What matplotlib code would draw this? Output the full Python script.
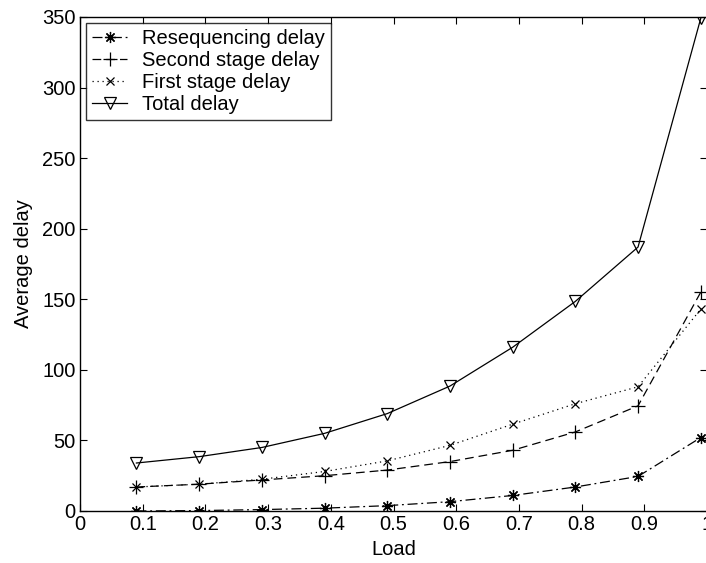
import matplotlib
matplotlib.use("Agg")
import matplotlib.pyplot as plt

plt.rcParams['font.family'] = ['Liberation Sans', 'DejaVu Sans']

load = [0.09, 0.19, 0.29, 0.39, 0.49, 0.59, 0.69, 0.79, 0.89, 0.99]
reseq = [0, 0.3, 1, 2, 3.8, 6.6, 11, 17, 24.5, 52]
second = [17, 19, 22, 25, 29, 35, 43, 56, 74.5, 155]
first = [17, 19, 22.5, 28, 35.5, 46.5, 61.5, 76, 88, 143]
total = [34, 38.5, 45, 55, 69, 88.5, 116, 148.5, 187, 349]

xticks = [0, 0.1, 0.2, 0.3, 0.4, 0.5, 0.6, 0.7, 0.8, 0.9, 1.0]
xticklabels = ["0", "0.1", "0.2", "0.3", "0.4", "0.5", "0.6", "0.7", "0.8", "0.9", "1"]
yticks = [0, 50, 100, 150, 200, 250, 300, 350]

FS = 14.5

fig = plt.figure(figsize=(7.06, 5.63), dpi=100)
ax = fig.add_axes([80/706, 1-511/563, 627/706, (511-17)/563])

lw = 0.9
ax.plot(load, reseq, linestyle=(0, (8, 3, 1.5, 3)), color='k', lw=lw, marker=(8, 2, 0), ms=8,
        mew=0.9, label='Resequencing delay')
ax.plot(load, second, linestyle=(0, (7, 4)), color='k', lw=lw, marker='+', ms=10,
        mew=0.9, label='Second stage delay')
ax.plot(load, first, linestyle=(0, (1, 3)), color='k', lw=lw, marker='x', ms=6,
        mew=0.9, label='First stage delay')
ax.plot(load, total, linestyle='-', color='k', lw=lw, marker='v', ms=9,
        mfc='none', mec='k', mew=0.9, label='Total delay')

ax.set_xlim(0, 1)
ax.set_ylim(0, 350)
ax.set_xticks(xticks)
ax.set_xticklabels(xticklabels)
ax.set_yticks(yticks)
ax.tick_params(direction='in', top=True, right=True, length=5, width=0.8,
               labelsize=FS, pad=3)
for s in ax.spines.values():
    s.set_linewidth(1.0)

ax.set_xlabel('Load', fontsize=FS, labelpad=4)
ax.set_ylabel('Average delay', fontsize=FS, labelpad=7)

leg = ax.legend(loc='upper left', fontsize=FS, frameon=True, fancybox=False,
                edgecolor='k', handlelength=1.75, handletextpad=0.75,
                borderaxespad=0.3, borderpad=0.3, labelspacing=0.15)
leg.get_frame().set_linewidth(1.0)

fig.savefig('out.png', dpi=100)
